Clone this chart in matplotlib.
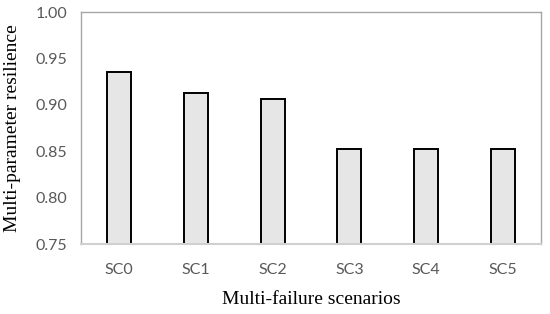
import matplotlib
matplotlib.use("Agg")
import matplotlib.pyplot as plt
import numpy as np

scenarios = ["SC0", "SC1", "SC2", "SC3", "SC4", "SC5"]
resilience = [0.935, 0.913, 0.906, 0.852, 0.852, 0.852]
yticks = [0.75, 0.80, 0.85, 0.90, 0.95, 1.00]

fig = plt.figure(figsize=(5.5, 3.14), dpi=100)
ax = fig.add_axes([81 / 550, 1 - 244 / 314, 460 / 550, 232 / 314])

x = np.arange(len(scenarios))
ax.bar(x, resilience, width=0.31, bottom=0, color="#e6e6e6",
       edgecolor="black", linewidth=1.4, zorder=2)

ax.set_xlim(-0.5, len(scenarios) - 0.5)
ax.set_ylim(0.75, 1.00)
ax.set_yticks(yticks)
ax.set_yticklabels(["%.2f" % v for v in yticks])
ax.set_xticks(x)
ax.set_xticklabels(scenarios)

for lab in ax.get_xticklabels() + ax.get_yticklabels():
    lab.set_family("Lato")
    lab.set_fontsize(11.5)
    lab.set_color("#595959")

ax.tick_params(axis="both", length=0)
ax.tick_params(axis="x", pad=14)
ax.tick_params(axis="y", pad=10)

for s in ax.spines.values():
    s.set_color("#a6a6a6")
    s.set_linewidth(1.0)
ax.spines["bottom"].set_color("#d0d0d0")
ax.spines["bottom"].set_linewidth(1.5)

ax.set_xlabel("Multi-failure scenarios", family="Liberation Serif",
              fontsize=14, labelpad=10)
ax.set_ylabel("Multi-parameter resilience", family="Liberation Serif",
              fontsize=14, labelpad=10)

fig.savefig("out.png", dpi=100)
